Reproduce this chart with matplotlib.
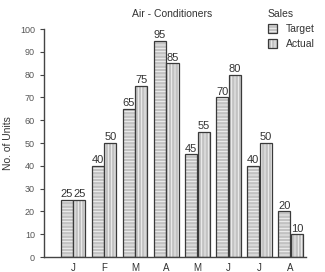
import matplotlib
matplotlib.use("Agg")
import matplotlib.pyplot as plt
import numpy as np

plt.rcParams['font.family'] = ['Liberation Sans', 'DejaVu Sans']
plt.rcParams['hatch.linewidth'] = 0.6

months = ['J', 'F', 'M', 'A', 'M', 'J', 'J', 'A']
target = [25, 40, 65, 95, 45, 70, 40, 20]
actual = [25, 50, 75, 85, 55, 80, 50, 10]

x = np.arange(len(months))
w = 0.39
hatch_col = matplotlib.colors.to_rgba('#f6f6f6')

fig = plt.figure(figsize=(3.25, 2.72), dpi=100)
ax = fig.add_axes([0.135, 0.055, 0.805, 0.838])

b1 = ax.bar(x - 0.2, target, w, color='#c2c2c2', edgecolor='#3a3a3a', hatch='-----',
            linewidth=0.9, label='Target')
b2 = ax.bar(x + 0.2, actual, w, color='#c2c2c2', edgecolor='#3a3a3a', hatch='|||||',
            linewidth=0.9, label='Actual')
for b in list(b1) + list(b2):
    b._hatch_color = hatch_col

for xi, t, a in zip(x, target, actual):
    ax.text(xi - 0.2, t + 0.3, str(t), ha='center', va='bottom', fontsize=8, color='#333333')
    ax.text(xi + 0.2, a + 0.3, str(a), ha='center', va='bottom', fontsize=8, color='#333333')

ax.set_xlim(-0.94, 7.48)
ax.set_ylim(0, 100)
ax.set_yticks(range(0, 101, 10))
ax.set_xticks(x)
ax.set_xticklabels(months)
ax.tick_params(labelsize=6.5, length=3, width=0.8, colors='#444444', labelcolor='#555555')
ax.tick_params(axis='x', length=0, pad=4, labelsize=7, labelcolor='#333333')
for s in ['top', 'right']:
    ax.spines[s].set_visible(False)
for s in ['left', 'bottom']:
    ax.spines[s].set_color('#444444')
    ax.spines[s].set_linewidth(1.0)

ax.set_ylabel('No. of Units', fontsize=7.5, color='#333333', labelpad=5)
fig.text(0.53, 0.948, 'Air - Conditioners', ha='center', va='center', fontsize=7.5, color='#333333')

leg = ax.legend(handles=[b1, b2], loc='upper left', bbox_to_anchor=(0.82, 1.13),
                frameon=False, fontsize=7.5, title='Sales', title_fontsize=7.5,
                handlelength=0.9, handleheight=0.9, handletextpad=0.8, labelspacing=0.5)
leg._legend_box.align = 'left'
leg.get_title().set_color('#333333')
for t in leg.get_texts():
    t.set_color('#333333')
for h in leg.legend_handles:
    h._hatch_color = hatch_col

fig.savefig('out.png', dpi=100)
